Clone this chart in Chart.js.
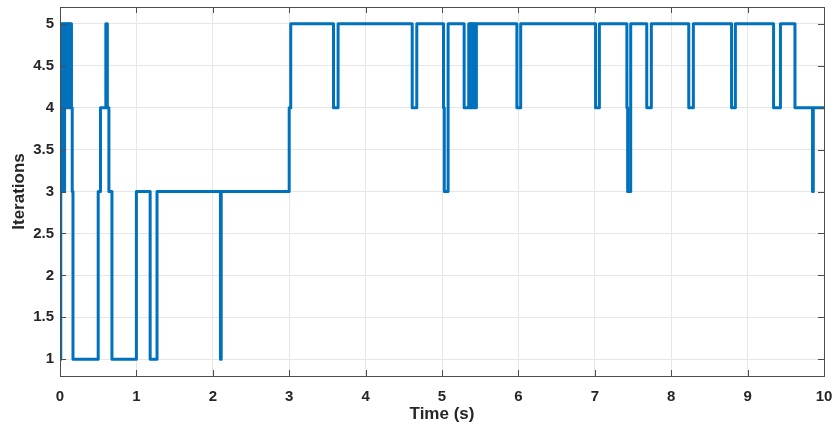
<!DOCTYPE html>
<html>
<head>
<meta charset="utf-8">
<script src="https://cdn.jsdelivr.net/npm/chart.js@4.4.1/dist/chart.umd.min.js"></script>
<style>
  html, body { margin: 0; padding: 0; background: #fff; }
  #wrap { width: 835px; height: 431px; }
</style>
</head>
<body>
<div id="wrap"><canvas id="iterChart" width="835" height="431"></canvas></div>
<script>
// switching times (s) and the iteration count that starts at each time
const switchTimes = [
    0, 0.01, 0.02, 0.03, 0.04, 0.05, 0.06, 0.07, 0.08, 0.09, 0.10, 0.11, 0.12, 0.13, 0.14, 0.15,
    0.16, 0.17, 0.50, 0.53, 0.60, 0.62, 0.64, 0.68, 1.00, 1.18, 1.27, 2.10, 2.11,
    3.00, 3.02, 3.58, 3.64, 4.61, 4.67, 5.02, 5.03, 5.08, 5.29, 5.35,
    5.36, 5.37, 5.38, 5.39, 5.40, 5.41, 5.42, 5.43, 5.44, 5.45,
    5.98, 6.03, 7.01, 7.06, 7.42, 7.43, 7.47, 7.68, 7.74, 8.23, 8.29,
    8.79, 8.84, 9.34, 9.43, 9.62, 9.85, 9.86, 10.0
];
const iterations = [
    1, 3, 5, 3, 5, 3, 5, 4, 5, 4, 5, 4, 5, 4, 5, 4,
    3, 1, 3, 4, 5, 4, 3, 1, 3, 1, 3, 1, 3,
    4, 5, 4, 5, 4, 5, 4, 3, 5, 4, 5,
    4, 5, 4, 5, 4, 5, 4, 5, 4, 5,
    4, 5, 4, 5, 4, 3, 5, 4, 5, 4, 5,
    4, 5, 4, 5, 4, 3, 4, 4
];
const xTicks = [0, 1, 2, 3, 4, 5, 6, 7, 8, 9, 10];
const yTicks = [1, 1.5, 2, 2.5, 3, 3.5, 4, 4.5, 5];

const points = switchTimes.map((t, i) => ({ x: t, y: iterations[i] }));

// MATLAB-like box with inward tick marks
const boxPlugin = {
    id: "boxPlugin",
    afterDraw(chart) {
        const { ctx, chartArea: a, scales } = chart;
        const len = 6;
        ctx.save();
        ctx.strokeStyle = "#4d4d4d";
        ctx.lineWidth = 1;
        ctx.beginPath();
        xTicks.forEach(v => {
            const px = Math.round(scales.x.getPixelForValue(v)) + 0.5;
            ctx.moveTo(px, a.bottom); ctx.lineTo(px, a.bottom - len);
            ctx.moveTo(px, a.top); ctx.lineTo(px, a.top + len);
        });
        yTicks.forEach(v => {
            const py = Math.round(scales.y.getPixelForValue(v)) + 0.5;
            ctx.moveTo(a.left, py); ctx.lineTo(a.left + len, py);
            ctx.moveTo(a.right, py); ctx.lineTo(a.right - len, py);
        });
        ctx.stroke();
        ctx.strokeRect(Math.round(a.left) + 0.5, Math.round(a.top) + 0.5,
            Math.round(a.right - a.left), Math.round(a.bottom - a.top));
        ctx.restore();
    }
};

const noPad = axis => {
    axis.paddingTop = 0; axis.paddingBottom = 0;
    axis.paddingLeft = 0; axis.paddingRight = 0;
};

const tickFont = { family: "Liberation Sans, Arial, sans-serif", size: 15, weight: "bold" };
const titleFont = { family: "Liberation Sans, Arial, sans-serif", size: 17, weight: "bold" };

const ctx = document.getElementById("iterChart").getContext("2d");

new Chart(ctx, {
    type: "line",
    data: {
        datasets: [{
            label: "Iterations",
            data: points,
            stepped: true,
            borderColor: "#0072BD",
            borderWidth: 3,
            borderJoinStyle: "round",
            borderCapStyle: "round",
            pointRadius: 0,
            fill: false
        }]
    },
    options: {
        responsive: false,
        animation: false,
        layout: { padding: { top: 7, right: 11, bottom: 0, left: 0 } },
        plugins: {
            legend: { display: false },
            tooltip: { enabled: false }
        },
        scales: {
            x: {
                type: "linear",
                min: 0,
                max: 10,
                afterBuildTicks: axis => { axis.ticks = xTicks.map(v => ({ value: v })); },
                afterFit: axis => { axis.height = 55; noPad(axis); },
                border: { display: false },
                grid: { color: "#e6e6e6", drawTicks: false },
                ticks: {
                    padding: 12,
                    color: "#262626",
                    font: tickFont,
                    callback: v => String(v)
                },
                title: {
                    display: true,
                    text: "Time (s)",
                    color: "#262626",
                    padding: { top: 0, bottom: 6 },
                    font: titleFont
                }
            },
            y: {
                min: 0.8,
                max: 5.2,
                afterBuildTicks: axis => { axis.ticks = yTicks.map(v => ({ value: v })); },
                afterFit: axis => { axis.width = 60; noPad(axis); },
                border: { display: false },
                grid: { color: "#e6e6e6", drawTicks: false },
                ticks: {
                    padding: 6,
                    color: "#262626",
                    font: tickFont,
                    callback: v => String(v)
                },
                title: {
                    display: true,
                    text: "Iterations",
                    color: "#262626",
                    padding: { top: 9, bottom: 0 },
                    font: titleFont
                }
            }
        }
    },
    plugins: [boxPlugin]
});
</script>
</body>
</html>
